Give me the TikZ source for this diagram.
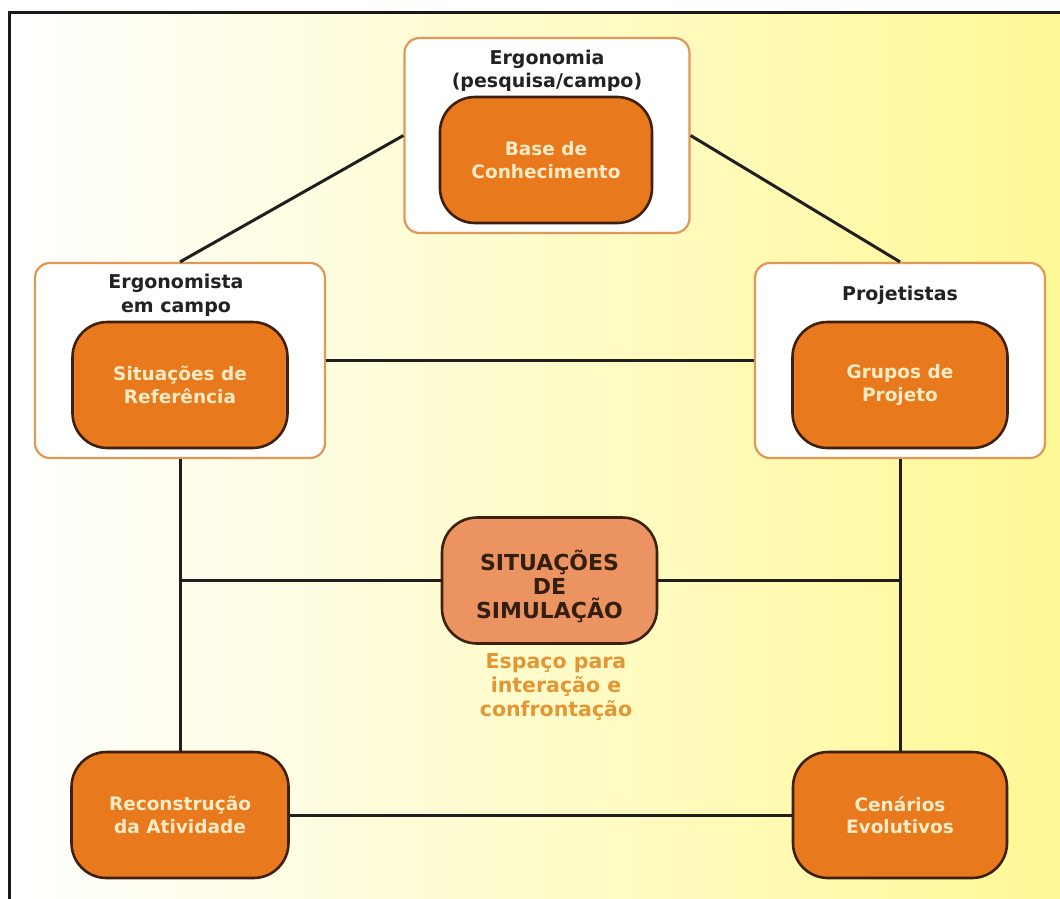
\documentclass[tikz,border=0pt]{standalone}
\usepackage{fontspec}
\setmainfont{DejaVu Sans}
\definecolor{boxfill}{RGB}{232,121,28}
\definecolor{boxline}{RGB}{62,32,12}
\definecolor{groupline}{RGB}{226,152,84}
\definecolor{simfill}{RGB}{235,148,98}
\definecolor{simtext}{RGB}{52,30,16}
\definecolor{labeltext}{RGB}{34,34,34}
\definecolor{boxtext}{RGB}{255,236,198}
\definecolor{notetext}{RGB}{226,150,52}
\definecolor{paperright}{RGB}{255,248,150}
\tikzset{
  group/.style={draw=groupline, line width=2.2pt, fill=white, rounded corners=15pt,
    minimum width=#1, inner sep=0pt},
  grouplabel/.style={text=labeltext, font=\bfseries\fontsize{19}{23.5}\selectfont,
    align=center, inner sep=0pt},
  stage/.style={draw=boxline, line width=2.6pt, fill=boxfill, rounded corners=35pt,
    minimum width=215pt, minimum height=126pt, inner sep=0pt,
    text=boxtext, font=\bfseries\fontsize{18.5}{22.5}\selectfont, align=center},
  simbox/.style={stage, fill=simfill},
  simcaption/.style={text=simtext, font=\bfseries\fontsize{22}{24}\selectfont,
    align=center, inner sep=0pt},
  note/.style={text=notetext, font=\bfseries\fontsize{20.5}{24}\selectfont,
    align=center, inner sep=0pt},
  link/.style={draw=black!88, line width=3pt}
}
\begin{document}
\begin{tikzpicture}[x=1pt,y=-1pt]
  \useasboundingbox (0,0) rectangle (1060,898);
  % paper with its soft white-to-yellow tint
  \shade[left color=white, right color=paperright] (9,12) rectangle (1062,900);
  % frame, top and left edges
  \draw[line width=3pt, black!90] (9,900) -- (9,12) -- (1062,12);

  % groups of actors
  \node[group=285pt, minimum height=195pt] (topOuter) at (547,135.5) {};
  \node[group=290pt, minimum height=195pt] (leftOuter) at (180,360.5) {};
  \node[group=290pt, minimum height=195pt] (rightOuter) at (900,360.5) {};

  \node[grouplabel] (topLabel) at (547,71) {Ergonomia\\(pesquisa/campo)};
  \node[grouplabel] (leftLabel) at (176,295) {Ergonomista\\em campo};
  \node[grouplabel] (rightLabel) at (900,295) {Projetistas};

  % stages
  \node[stage, minimum width=212pt] (base) at (546,160) {Base de\\Conhecimento};
  \node[stage] (refer) at (180,385) {Situações de\\Referência};
  \node[stage] (grupos) at (900,385) {Grupos de\\Projeto};
  \node[simbox, label={[simcaption, yshift=-6pt]center:{SITUAÇÕES\\DE\\SIMULAÇÃO}}]
    (sim) at (549.5,580.5) {};
  \node[stage, minimum width=217pt] (recon) at (180,815) {Reconstrução\\da Atividade};
  \node[stage, minimum width=214pt] (cenarios) at (900,815) {Cenários\\Evolutivos};

  \node[note] (espaco) at (556,687) {Espaço para\\interação e\\confrontação};

  % connectors
  \draw[link] (topOuter.west) -- (leftOuter.north);
  \draw[link] (topOuter.east) -- (rightOuter.north);
  \draw[link] (leftOuter.east) -- (rightOuter.west);
  \draw[link] (leftOuter.south) -- (recon.north);
  \draw[link] (rightOuter.south) -- (cenarios.north);
  \draw[link] (sim.west) -- (sim.west -| recon.north);
  \draw[link] (sim.east) -- (sim.east -| cenarios.north);
  \draw[link] (recon.east) -- (cenarios.west);
\end{tikzpicture}
\end{document}
